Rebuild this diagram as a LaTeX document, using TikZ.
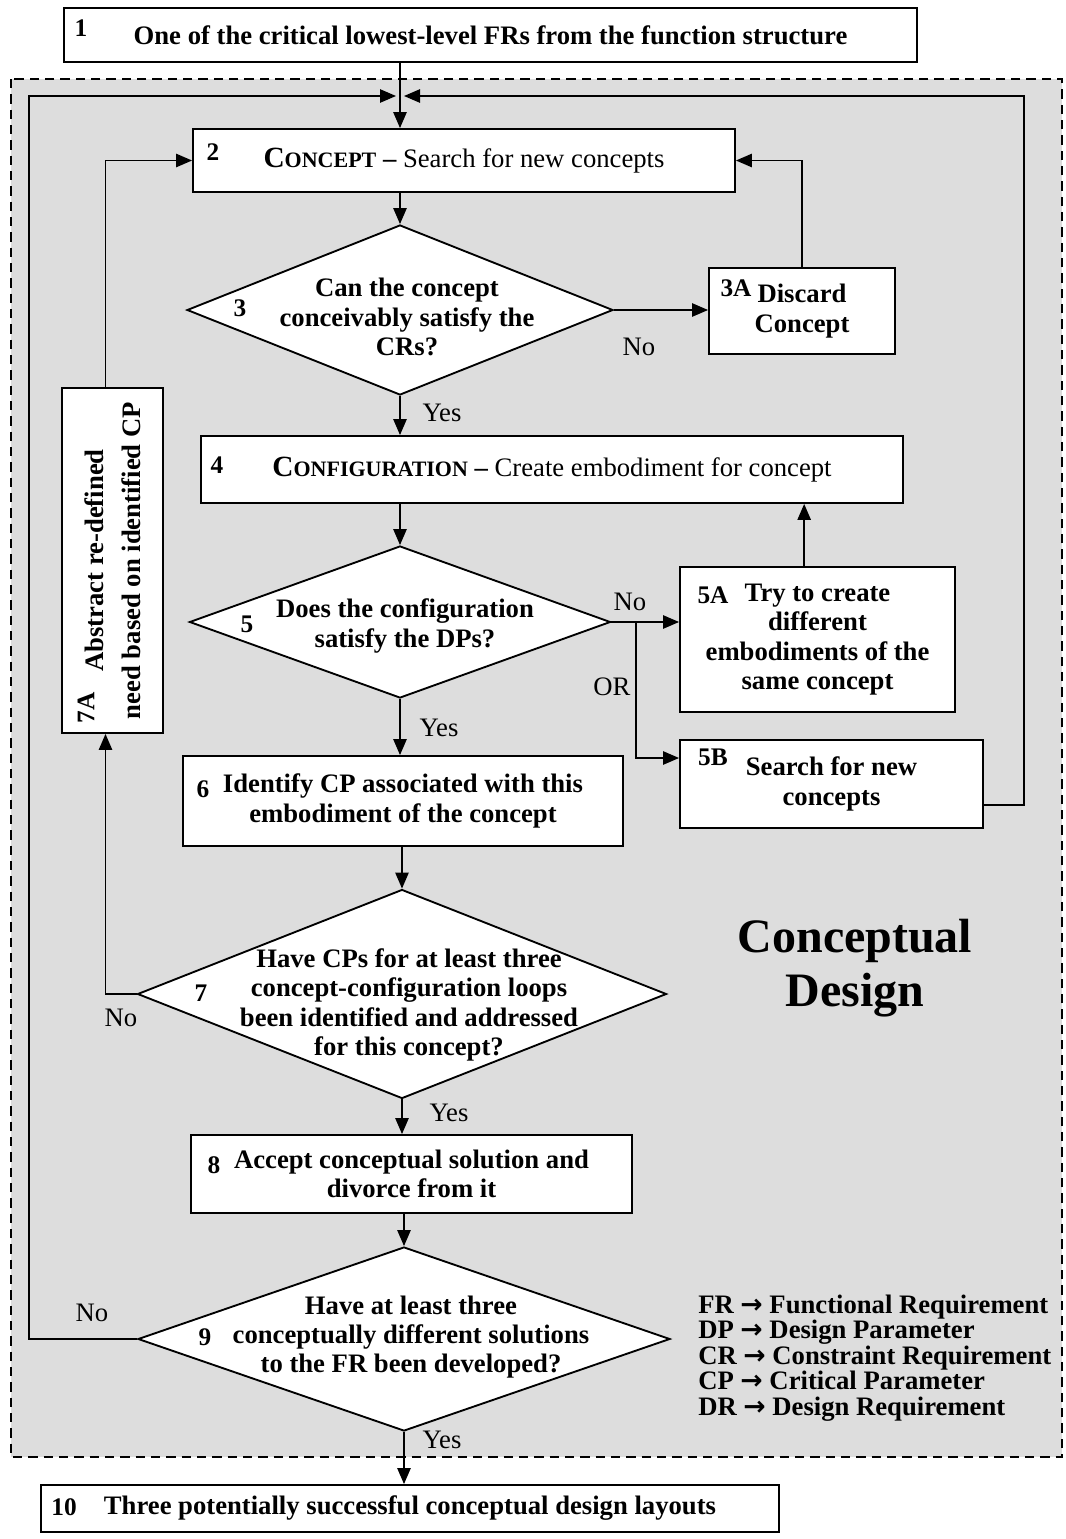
\documentclass[tikz,border=0pt]{standalone}
\usepackage{fontspec}
\setmainfont{Liberation Serif}
\newfontfamily\arrowfont{DejaVu Sans}
\usepackage{tikz}
\usetikzlibrary{arrows.meta,shapes.geometric}

\definecolor{cdgray}{RGB}{221,221,221}
\newcommand{\boxfont}{\fontsize{20}{22}\selectfont\bfseries}
\newcommand{\numfont}{\fontsize{19}{21}\selectfont\bfseries}
\newcommand{\labfont}{\fontsize{20}{22}\selectfont}
\newcommand{\smcap}[2]{{\fontsize{22}{22}\selectfont #1}{\fontsize{16.5}{22}\selectfont #2}}
\newcommand{\keyarrow}{{\arrowfont\bfseries →}}

\begin{document}
\begin{tikzpicture}[x=0.75pt, y=-0.75pt,
  box/.style={draw, rectangle, black, fill=white, line width=1.4pt, inner sep=0pt, align=center, font=\boxfont},
  dec/.style={draw, diamond, black, fill=white, line width=1.4pt, inner sep=0pt},
  qtext/.style={inner sep=0pt, align=center, font=\boxfont},
  num/.style={inner sep=0pt, font=\numfont},
  lab/.style={inner sep=0pt, font=\labfont},
  arr/.style={black, line width=1.2pt, -{Triangle[length=12pt, width=10pt]}}]
\useasboundingbox (0,0) rectangle (1065,1539);

% conceptual design area
\fill[cdgray] (11,79) rectangle (1062,1457);
\draw[black, line width=1.5pt, dash pattern=on 7pt off 4.5pt] (11,79) rectangle (1062,1457);

\node[box, minimum width=639.75pt, minimum height=40.5pt] (b1) at (490.5,35) {One of the critical lowest-level FRs from the function structure};
\node[num] (n1) at (81,28) {1};
\node[box, minimum width=406.5pt, minimum height=47.25pt] (b2) at (464,160.5) {\smcap{C}{ONCEPT} – {\mdseries Search for new concepts}};
\node[num] (n2) at (213,152) {2};
\node[dec, minimum width=319.5pt, minimum height=127.5pt] (d3) at (400,310) {};
\node[qtext] (t3) at (407,317) {Can the concept\\conceivably satisfy the\\CRs?};
\node[num] (n3) at (240,308) {3};
\node[box, minimum width=139.5pt, minimum height=64.5pt] (b3a) at (802,311) {Discard\\Concept};
\node[num] (n3a) at (736,288) {3A};
\node[box, minimum width=526.5pt, minimum height=50.25pt] (b4) at (552,469.5) {\smcap{C}{ONFIGURATION} – {\mdseries Create embodiment for concept}};
\node[num] (n4) at (217,465) {4};
\node[dec, minimum width=315.75pt, minimum height=114pt] (d5) at (400,622) {};
\node[qtext] (t5) at (405,626) {Does the configuration\\satisfy the DPs?};
\node[num] (n5) at (247,624) {5};
\node[box, minimum width=206.25pt, minimum height=108.75pt] (b5a) at (817.5,639.5) {Try to create\\different\\embodiments of the\\same concept};
\node[num] (n5a) at (713,595) {5A};
\node[box, minimum width=227.25pt, minimum height=66pt] (b5b) at (831.5,784) {Search for new\\concepts};
\node[num] (n5b) at (713,757) {5B};
\node[box, minimum width=330pt, minimum height=67.5pt] (b6) at (403,801) {Identify CP associated with this\\embodiment of the concept};
\node[num] (n6) at (203,789) {6};
\node[dec, minimum width=396.75pt, minimum height=156.75pt] (d7) at (402,994) {};
\node[qtext] (t7) at (409,1005) {Have CPs for at least three\\concept-configuration loops\\been identified and addressed\\for this concept?};
\node[num] (n7) at (201,993) {7};
\node[box, rotate=90, minimum width=258.75pt, minimum height=75.75pt, font={\fontsize{20}{28}\selectfont\bfseries}] (b7a) at (112.5,560.5) {Abstract re-defined\\need based on identified CP};
\node[num, rotate=90] (n7a) at (86,708) {7A};
\node[box, minimum width=330.75pt, minimum height=58.5pt] (b8) at (411.5,1174) {Accept conceptual solution and\\divorce from it};
\node[num] (n8) at (214,1165) {8};
\node[dec, minimum width=399pt, minimum height=138pt] (d9) at (404,1339) {};
\node[qtext] (t9) at (411,1337) {Have at least three\\conceptually different solutions\\to the FR been developed?};
\node[num] (n9) at (205,1337) {9};
\node[box, minimum width=553.5pt, minimum height=35.25pt] (b10) at (410,1508.5) {Three potentially successful conceptual design layouts};
\node[num] (n10) at (64,1507) {10};

\node[font={\fontsize{36}{41}\selectfont\bfseries}, align=center] (cd) at (855,968) {Conceptual\\Design};
\node[font={\fontsize{20}{19.1}\selectfont\bfseries}, align=left, anchor=west, inner sep=0pt] (key) at (698,1358) {FR \keyarrow{} Functional Requirement\\DP \keyarrow{} Design Parameter\\CR \keyarrow{} Constraint Requirement\\CP \keyarrow{} Critical Parameter\\DR \keyarrow{} Design Requirement};

\node[lab] (no3) at (639,347) {No};
\node[lab] (yes3) at (442,413) {Yes};
\node[lab] (no5) at (630,602) {No};
\node[lab] (or5) at (612,687) {OR};
\node[lab] (yes5) at (439,728) {Yes};
\node[lab] (no7) at (121,1018) {No};
\node[lab] (yes7) at (449,1113) {Yes};
\node[lab] (no9) at (92,1313) {No};
\node[lab] (yes9) at (442,1440) {Yes};

\coordinate (merge) at (400,96);
\coordinate (lft) at (29,96);
\coordinate (rgt) at (1024,96);
\coordinate (split) at (636,622);

\draw[arr] (b1.south -| d3.north) -- (b2.north -| d3.north);
\draw[arr] (b2.south -| d3.north) -- (d3.north);
\draw[arr] (d3.east) -- (d3.east -| b3a.west);
\draw[arr] (b3a.north) |- (b2.east);
\draw[arr] (d3.south) -- (d3.south |- b4.north);
\draw[arr] (b4.south -| d5.north) -- (d5.north);
\draw[arr] (d5.east) -- (d5.east -| b5a.west);
\draw[arr] (split) |- ([yshift=19.5pt]b5b.west);
\draw[arr] ([xshift=-10pt]b5a.north) -- ([xshift=-10pt]b5a.north |- b4.south);
\draw[arr] ([yshift=-15.75pt]b5b.east) -| (rgt) -- ([xshift=3pt]merge);
\draw[arr] (d5.south) -- (d5.south |- b6.north);
\draw[arr] (b6.south -| d7.north) -- (d7.north);
\draw[arr] (d7.west) -| ([xshift=-5.25pt]b7a.west);
\draw[arr] ([xshift=-5.25pt]b7a.east) |- (b2.west);
\draw[arr] (d7.south) -- (d7.south |- b8.north);
\draw[arr] (b8.south -| d9.north) -- (d9.north);
\draw[arr] (d9.west) -| (lft) -- ([xshift=-3pt]merge);
\draw[arr] (d9.south) -- (d9.south |- b10.north);
\end{tikzpicture}
\end{document}
